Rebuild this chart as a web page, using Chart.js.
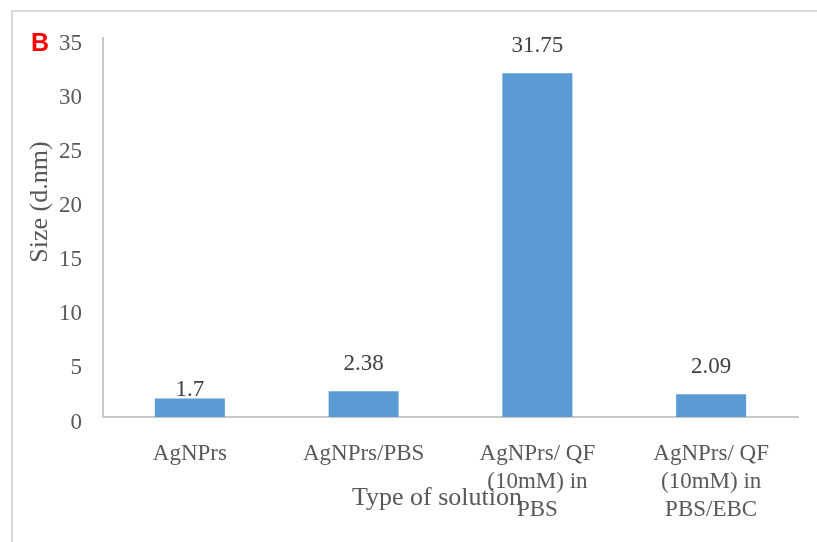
<!DOCTYPE html>
<html>
<head>
<meta charset="utf-8">
<script src="https://cdn.jsdelivr.net/npm/chart.js@4"></script>
<style>
  html, body { margin: 0; padding: 0; background: #fff; }
  #wrap { position: relative; width: 817px; height: 542px; }
  #frame {
    position: absolute; left: 11px; top: 10px; right: 0; bottom: 0;
    border-top: 2px solid #d9d9d9; border-left: 2px solid #d9d9d9;
  }
  canvas { position: absolute; left: 0; top: 0; }
</style>
</head>
<body>
<div id="wrap">
  <div id="frame"></div>
  <canvas id="chart-size" width="817" height="542"></canvas>
</div>
<script>
// data
const categories = [
  ['AgNPrs'],
  ['AgNPrs/PBS'],
  ['AgNPrs/ QF', '(10mM) in', 'PBS'],
  ['AgNPrs/ QF', '(10mM) in', 'PBS/EBC']
];
const sizes = [1.7, 2.38, 31.75, 2.09];
const yMin = 0;
const yMax = 35;
const yStep = 5;

const serif = "'Liberation Serif', 'Times New Roman', serif";

// value labels, axis titles and the panel letter
const annotate = {
  id: 'annotate',
  afterDatasetsDraw(chart) {
    const ctx = chart.ctx;
    const meta = chart.getDatasetMeta(0);
    ctx.save();
    ctx.font = '23px ' + serif;
    ctx.fillStyle = '#404040';
    ctx.textAlign = 'center';
    ctx.textBaseline = 'middle';
    meta.data.forEach((bar, i) => {
      const lift = i === 0 ? 9 : 27;
      ctx.fillText(String(sizes[i]), bar.x, bar.y - lift);
    });

    ctx.fillStyle = '#595959';
    ctx.font = '26px ' + serif;
    ctx.fillText('Type of solution', 437, 498);

    ctx.translate(40, 202);
    ctx.rotate(-Math.PI / 2);
    ctx.fillText('Size (d.nm)', 0, 0);
    ctx.restore();

    ctx.save();
    ctx.font = "bold 25px 'Liberation Sans', Arial, sans-serif";
    ctx.fillStyle = '#ff0000';
    ctx.textAlign = 'center';
    ctx.textBaseline = 'middle';
    ctx.fillText('B', 40, 44);
    ctx.restore();
  }
};

new Chart(document.getElementById('chart-size').getContext('2d'), {
  type: 'bar',
  data: {
    labels: categories,
    datasets: [{
      label: 'Size (d.nm)',
      data: sizes,
      backgroundColor: '#5b9bd5',
      borderWidth: 0,
      categoryPercentage: 1,
      barPercentage: 0.403
    }]
  },
  options: {
    responsive: false,
    animation: false,
    layout: { padding: { top: 38, right: 19, left: 0, bottom: 0 } },
    plugins: { legend: { display: false }, tooltip: { enabled: false } },
    scales: {
      x: {
        grid: { display: false },
        border: { display: true, color: '#c8c8c8', width: 2 },
        ticks: {
          color: '#595959',
          padding: 15,
          maxRotation: 0,
          autoSkip: false,
          font: { family: serif, size: 23, lineHeight: 1.22 }
        },
        afterFit(scale) { scale.height = 125; }
      },
      y: {
        min: yMin,
        max: yMax,
        grid: { display: false },
        border: { display: true, color: '#c8c8c8', width: 2 },
        ticks: {
          stepSize: yStep,
          color: '#595959',
          padding: 13,
          // empty first line nudges the number a few pixels down, as in the figure
          callback: (v) => ['', String(v)],
          font: { family: serif, size: 23, lineHeight: '11px' }
        },
        afterFit(scale) { scale.width = 103; }
      }
    }
  },
  plugins: [annotate]
});
</script>
</body>
</html>
